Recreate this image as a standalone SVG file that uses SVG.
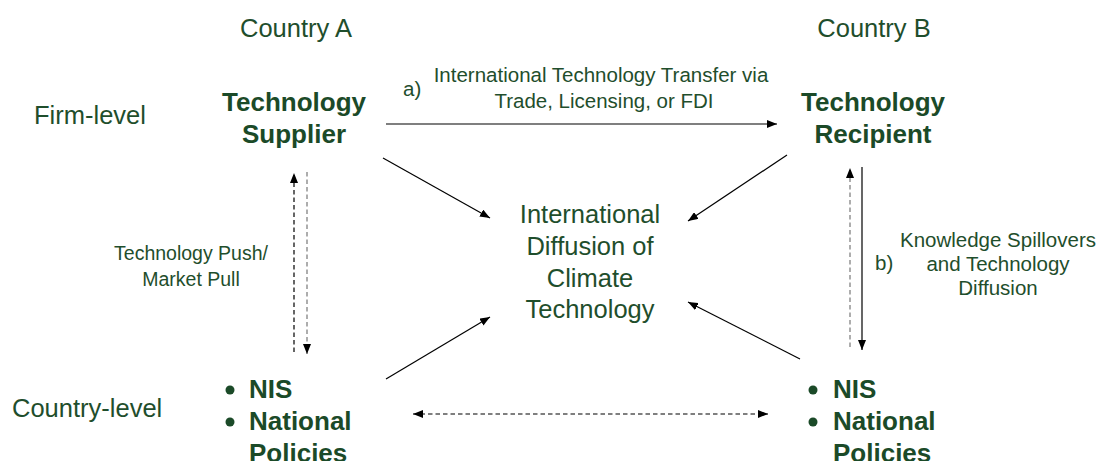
<svg xmlns="http://www.w3.org/2000/svg" width="1097" height="461" viewBox="0 0 1097 461">
<style>
.t{font-family:"Liberation Sans",Arial,sans-serif;fill:#1f4e2c}
.h{font-size:25.5px}
.b{font-size:26px;font-weight:bold;fill:#1b4a28}
.s{font-size:20.5px}
.p{font-size:19.5px}
.c{font-size:25.5px}
.ln{stroke:#000;stroke-width:1.2;fill:none}
.dk{stroke:#000;stroke-width:1.2;stroke-dasharray:4.5 3;fill:none}
.dg{stroke:#777;stroke-width:1.2;stroke-dasharray:4.5 3;fill:none}
</style>
<defs>
<marker id="ah" viewBox="0 0 10 8" refX="10" refY="4" markerWidth="10" markerHeight="8" markerUnits="userSpaceOnUse" orient="auto-start-reverse">
<path d="M0,0 L10,4 L0,8 z" fill="#000"/>
</marker>
</defs>
<rect width="1097" height="461" fill="#fff"/>
<g id="headers">
<text class="t h" x="296" y="37" text-anchor="middle">Country A</text>
<text class="t h" x="874" y="37" text-anchor="middle">Country B</text>
<text class="t h" x="34" y="124">Firm-level</text>
<text class="t h" x="12" y="417">Country-level</text>
</g>
<g id="supplier">
<text class="t b" x="294" y="111" text-anchor="middle">Technology</text>
<text class="t b" x="294" y="143" text-anchor="middle">Supplier</text>
</g>
<g id="recipient">
<text class="t b" x="873" y="111" text-anchor="middle">Technology</text>
<text class="t b" x="873" y="143" text-anchor="middle">Recipient</text>
</g>
<g id="center">
<text class="t c" x="590" y="223" text-anchor="middle">International</text>
<text class="t c" x="590" y="255" text-anchor="middle">Diffusion of</text>
<text class="t c" x="590" y="287" text-anchor="middle">Climate</text>
<text class="t c" x="590" y="318" text-anchor="middle">Technology</text>
</g>
<g id="policiesA">
<circle cx="230" cy="390" r="4.5" fill="#1b4a28"/>
<text class="t b" x="249" y="398">NIS</text>
<circle cx="230" cy="422" r="4.5" fill="#1b4a28"/>
<text class="t b" x="249" y="430">National</text>
<text class="t b" x="249" y="462">Policies</text>
</g>
<g id="policiesB">
<circle cx="813" cy="390" r="4.5" fill="#1b4a28"/>
<text class="t b" x="833" y="398">NIS</text>
<circle cx="813" cy="422" r="4.5" fill="#1b4a28"/>
<text class="t b" x="833" y="430">National</text>
<text class="t b" x="833" y="462">Policies</text>
</g>
<g id="connectors">
<line class="ln" x1="386" y1="124" x2="777" y2="124" marker-end="url(#ah)"/>
<line class="ln" x1="383" y1="158" x2="490" y2="218" marker-end="url(#ah)"/>
<line class="ln" x1="787" y1="155" x2="688" y2="221" marker-end="url(#ah)"/>
<line class="ln" x1="386" y1="379" x2="490" y2="317" marker-end="url(#ah)"/>
<line class="ln" x1="800" y1="359" x2="688" y2="302" marker-end="url(#ah)"/>
<line class="dk" x1="294" y1="352" x2="294" y2="173" marker-end="url(#ah)"/>
<line class="dg" x1="307" y1="172" x2="307" y2="354" marker-end="url(#ah)"/>
<line class="dg" x1="850" y1="347" x2="850" y2="168" marker-end="url(#ah)"/>
<line class="ln" x1="862" y1="167" x2="862" y2="350" marker-end="url(#ah)"/>
<line class="dk" x1="413" y1="414" x2="768" y2="414" marker-start="url(#ah)" marker-end="url(#ah)"/>
</g>
<g id="labels">
<text class="t s" x="403" y="96">a)</text>
<text class="t s" x="601" y="82" text-anchor="middle">International Technology Transfer via</text>
<text class="t s" x="604" y="108" text-anchor="middle">Trade, Licensing, or FDI</text>
<text class="t s" x="875" y="270">b)</text>
<text class="t s" x="998" y="247" text-anchor="middle">Knowledge Spillovers</text>
<text class="t s" x="998" y="271" text-anchor="middle">and Technology</text>
<text class="t s" x="998" y="295" text-anchor="middle">Diffusion</text>
<text class="t p" x="191" y="260" text-anchor="middle">Technology Push/</text>
<text class="t p" x="191" y="286" text-anchor="middle">Market Pull</text>
</g>
</svg>
